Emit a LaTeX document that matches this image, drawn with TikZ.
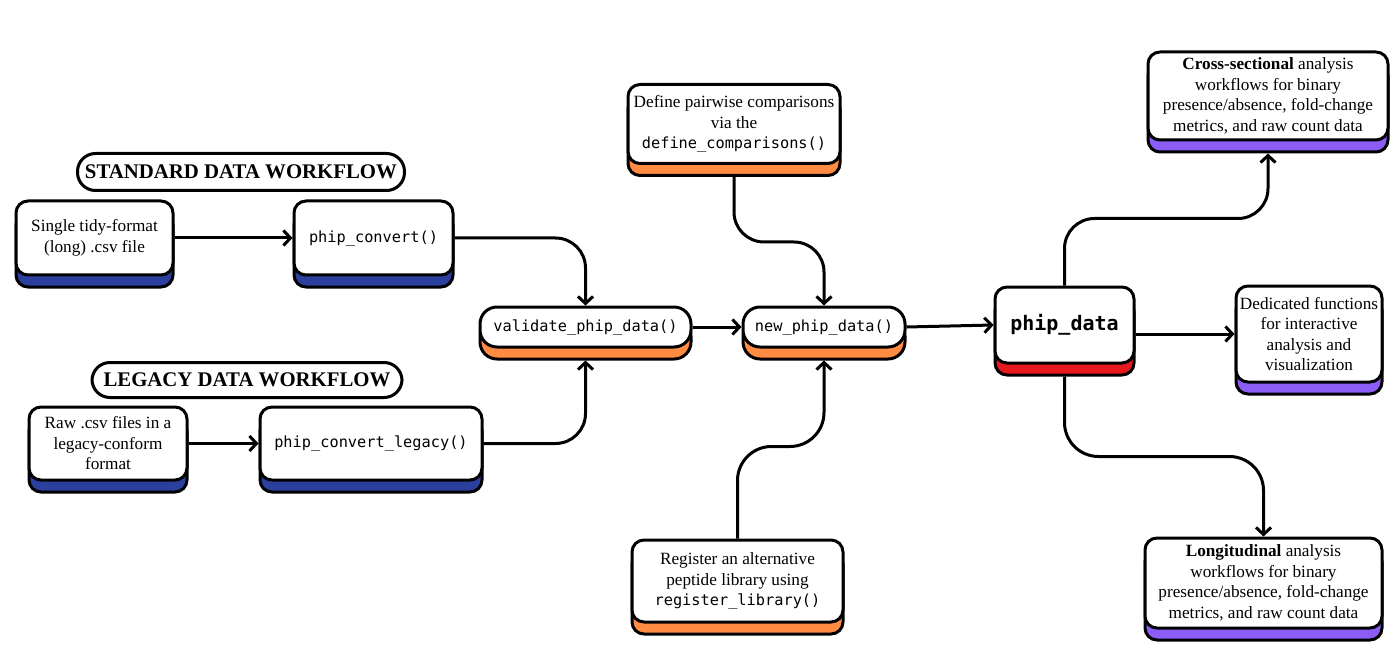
\documentclass[tikz,border=0pt]{standalone}
\usepackage{fontspec}
\setmainfont{Liberation Serif}
\setmonofont{DejaVu Sans Mono}
\usepackage{tikz}
\usetikzlibrary{positioning,arrows.meta,shadows}
\usepackage{xcolor}

\definecolor{wfblue}{HTML}{2B3F9E}
\definecolor{wforange}{HTML}{FF8C42}
\definecolor{wfred}{HTML}{E8191E}
\definecolor{wfpurple}{HTML}{8B5CF6}

\newcommand{\txtsize}{\fontsize{17.2}{20.5}\selectfont}
\newcommand{\fnsize}{\fontsize{15.3}{20.5}\selectfont\ttfamily}
\newcommand{\pkgfn}[1]{{\fnsize #1}}

\begin{document}
\begin{tikzpicture}[
    x=1pt, y=-1pt,
    card/.style={draw, line width=3pt, rounded corners=12pt, fill=white, align=center, font=\txtsize, inner sep=2pt},
    lift/.style={copy shadow={shadow xshift=0pt, shadow yshift=-12pt, fill=#1, draw=black, line width=3pt}},
    func/.style={card, font=\fnsize, rounded corners=17pt},
    banner/.style={draw, line width=3pt, rounded corners=18pt, fill=white, font=\fontsize{20.8}{24}\selectfont\bfseries},
    flow/.style={line width=3pt, -{Straight Barb[length=7pt,width=15pt]}, rounded corners=30pt}
]
\useasboundingbox (0,0) rectangle (1398,671);

% standard / legacy inputs
\node[banner, minimum width=327pt, minimum height=37pt] (hstd) at (241,172) {STANDARD DATA WORKFLOW};
\node[card, lift=wfblue, minimum width=157pt, minimum height=74pt] (tidy) at (94.5,238) {Single tidy-format\\(long) .csv file};
\node[card, lift=wfblue, font=\fnsize, minimum width=159pt, minimum height=74pt] (conv) at (373.5,238) {phip\_convert()};

\node[banner, minimum width=310pt, minimum height=35pt] (hleg) at (247,380) {LEGACY DATA WORKFLOW};
\node[card, lift=wfblue, minimum width=158pt, minimum height=73pt] (raw) at (108,443.5) {Raw .csv files in a\\legacy-conform\\format};
\node[card, lift=wfblue, font=\fnsize, minimum width=222pt, minimum height=73pt] (legconv) at (371,443.5) {phip\_convert\_legacy()};

% core constructors
\node[func, lift=wforange, minimum width=211pt, minimum height=40pt] (val) at (585.5,327) {validate\_phip\_data()};
\node[func, lift=wforange, minimum width=162pt, minimum height=40pt] (new) at (824,327) {new\_phip\_data()};
\node[card, lift=wforange, minimum width=212pt, minimum height=79pt] (cmp) at (734,124) {Define pairwise comparisons\\via the\\\pkgfn{define\_comparisons()}};
\node[card, lift=wforange, minimum width=211pt, minimum height=82pt] (lib) at (737.5,581) {Register an alternative\\peptide library using\\\pkgfn{register\_library()}};

% object and downstream
\node[card, lift=wfred, font=\fontsize{20}{24}\selectfont\ttfamily\bfseries, minimum width=139pt, minimum height=76pt] (pd) at (1064.5,325) {phip\_data};
\node[card, lift=wfpurple, minimum width=146pt, minimum height=96pt] (viz) at (1309,334) {Dedicated functions\\for interactive\\analysis and\\visualization};
\node[card, lift=wfpurple, minimum width=240pt, minimum height=88pt] (cross) at (1268,96) {\textbf{Cross-sectional} analysis\\workflows for binary\\presence/absence, fold-change\\metrics, and raw count data};
\node[card, lift=wfpurple, minimum width=237pt, minimum height=90pt] (long) at (1263.5,583) {\textbf{Longitudinal} analysis\\workflows for binary\\presence/absence, fold-change\\metrics, and raw count data};

\draw[flow] (tidy) -- (conv);
\draw[flow] (raw) -- (legconv);
\draw[flow] (conv.east) -| (val.north);
\draw[flow] (legconv.east) -| ([yshift=-12pt]val.south);
\draw[flow] (val) -- (new);
\draw[flow] ([yshift=-12pt]cmp.south) -- ++(0,65) -| (new.north);
\draw[flow, rounded corners=34pt] (lib.north) -- ++(0,-92) -| ([yshift=-12pt]new.south);
\draw[flow] (new.east) -- (pd.west);
\draw[flow] (pd.east |- viz.west) -- (viz.west);
\draw[flow] (pd.north) -- ++(0,-67) -| ([yshift=-12pt]cross.south);
\draw[flow, rounded corners=34pt] ([yshift=-12pt]pd.south) -- ++(0,80) -| (long.north);
\end{tikzpicture}
\end{document}
